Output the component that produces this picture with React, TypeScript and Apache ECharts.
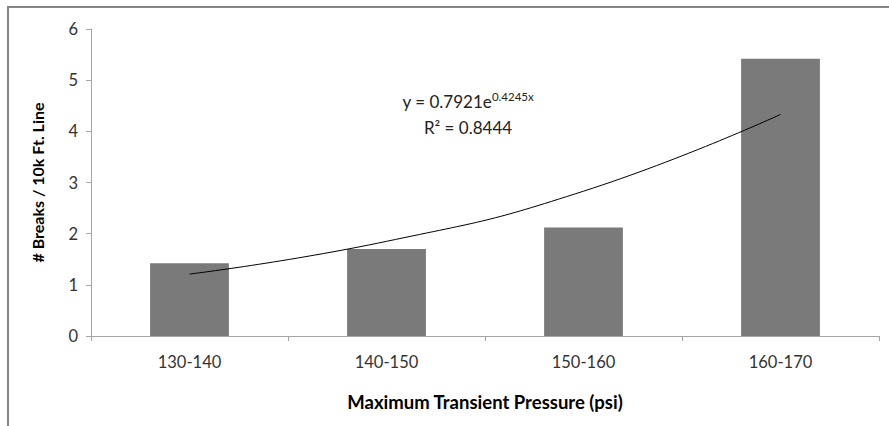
import React, { useEffect, useRef } from "react";
import * as echarts from "echarts";

const categories = ["130-140", "140-150", "150-160", "160-170"];
const breaks = [1.42, 1.7, 2.12, 5.42];
const trend = [1.21, 1.85, 2.83, 4.33];
const yTicks = [0, 1, 2, 3, 4, 5, 6];

const FONT = "Lato, 'Open Sans', sans-serif";

export default function App() {
  const ref = useRef<HTMLDivElement>(null);
  useEffect(() => {
    if (!ref.current) return;
    const chart = echarts.init(ref.current, undefined, { renderer: "svg" });
    chart.setOption({
      animation: false,
      backgroundColor: "#fff",
      textStyle: { fontFamily: FONT },
      grid: { left: 91, top: 29, right: 10, bottom: 90, containLabel: false },
      xAxis: {
        type: "category",
        data: categories,
        name: "Maximum Transient Pressure (psi)",
        nameLocation: "middle",
        nameGap: 56,
        nameTextStyle: { fontFamily: FONT, fontWeight: "bold", fontSize: 18.5, color: "#000" },
        axisLine: { lineStyle: { color: "#a6a6a6", width: 1 } },
        axisTick: { show: true, alignWithLabel: false, length: 5, lineStyle: { color: "#a6a6a6" } },
        axisLabel: { fontFamily: FONT, fontSize: 16.5, color: "#333", margin: 17 },
      },
      yAxis: {
        type: "value",
        min: yTicks[0],
        max: yTicks[yTicks.length - 1],
        interval: 1,
        name: "# Breaks / 10k Ft. Line",
        nameLocation: "middle",
        nameGap: 46,
        nameRotate: 90,
        nameTextStyle: { fontFamily: FONT, fontWeight: "bold", fontSize: 16, color: "#000" },
        axisLine: { show: true, lineStyle: { color: "#a6a6a6", width: 1 } },
        axisTick: { show: true, length: 5, lineStyle: { color: "#a6a6a6" } },
        splitLine: { show: false },
        axisLabel: { fontFamily: FONT, fontSize: 16.5, color: "#333", margin: 13 },
      },
      series: [
        {
          type: "bar",
          data: breaks,
          barWidth: "40%",
          itemStyle: { color: "#7a7a7a" },
        },
        {
          type: "line",
          data: trend,
          smooth: true,
          symbol: "none",
          lineStyle: { color: "#000", width: 1 },
          z: 5,
        },
      ],
      graphic: [
        {
          type: "polyline",
          shape: { points: [[8, 426], [8, 7], [889, 7]] },
          style: { stroke: "#858585", lineWidth: 2, fill: null },
          silent: true,
          z: 200,
        },
        {
          type: "text",
          x: 468,
          y: 101,
          style: {
            text: "y = 0.7921e{sup|0.4245x}",
            fontFamily: FONT,
            fontSize: 17,
            fill: "#222",
            align: "center",
            verticalAlign: "middle",
            rich: {
              sup: { fontFamily: FONT, fontSize: 11.5, fill: "#222", padding: [0, 0, 9, 0] },
            },
          },
        },
        {
          type: "text",
          x: 468,
          y: 127,
          style: {
            text: "R² = 0.8444",
            fontFamily: FONT,
            fontSize: 17,
            fill: "#222",
            align: "center",
            verticalAlign: "middle",
          },
        },
      ],
    });
    return () => chart.dispose();
  }, []);
  return (
    <div
      ref={ref}
      style={{ position: "absolute", left: 0, top: 0, width: 889, height: 426 }}
    />
  );
}
